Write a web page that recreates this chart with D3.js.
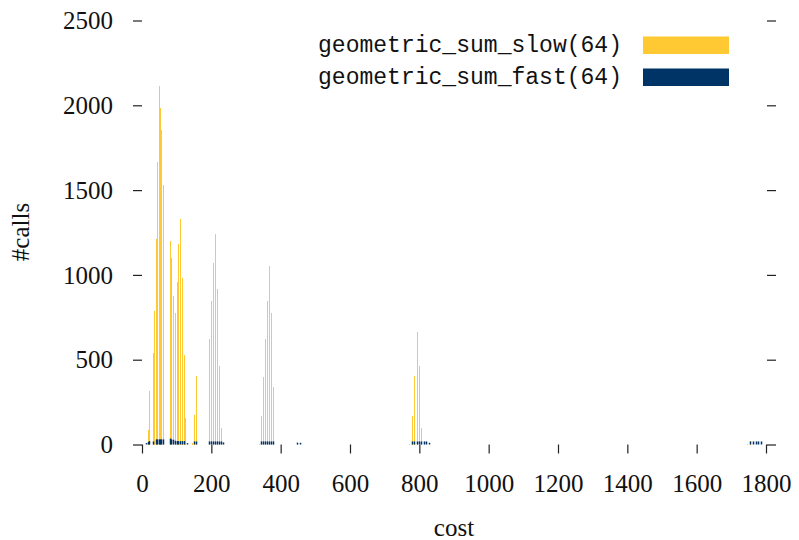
<!DOCTYPE html>
<html>
<head>
<meta charset="utf-8">
<script src="https://cdn.jsdelivr.net/npm/d3@7"></script>
<style>
  html, body { margin: 0; padding: 0; background: #fff; }
  svg { display: block; }
</style>
</head>
<body>
<svg id="chart" width="799" height="540"></svg>
<script>
// ---- data ----
const seriesNames = ["geometric_sum_slow(64)", "geometric_sum_fast(64)"];
const costs = [12.5, 17.3, 20.2, 32.7, 35.6, 41.4, 44.2, 49, 52, 54.8, 61.5,
  81.7, 84.6, 89.4, 95.2, 101.9, 104.8, 110.6, 116.4, 122.2, 125, 130.8,
  145, 150.9, 156.7,
  193, 199, 204.8, 210.6, 216.3, 222.1, 227.9, 233.6,
  338.4, 344.2, 350, 355.7, 361.5, 367.3, 373, 378.8,
  448, 456.6,
  771, 779.7, 785.5, 794, 799.8, 805.6, 814.2, 820, 828.7,
  1746, 1755, 1763, 1771, 1778, 1786];
const slowCalls = [0, 88, 314, 539, 790, 1214, 1667, 2114, 1982, 1853, 1529,
  1200, 1102, 878, 778, 961, 1184, 1331, 982, 525, 155, 0,
  6, 173, 402,
  625, 849, 1072, 1243, 914, 461, 100, 0,
  5, 170, 400, 624, 847, 1053, 776, 341,
  14, 0,
  5, 170, 402, 665, 465, 100, 0, 0, 0,
  5, 22, 0, 0, 0, 0];
const fastCalls = [8, 15, 20, 18, 0, 30, 30, 30, 30, 30, 30,
  35, 30, 28, 22, 20, 20, 20, 20, 20, 0, 8,
  0, 18, 18,
  18, 18, 18, 18, 18, 18, 18, 12,
  0, 18, 18, 18, 18, 18, 18, 18,
  10, 10,
  0, 18, 18, 18, 18, 18, 18, 18, 10,
  0, 18, 18, 18, 18, 18];
const xTicks = [0, 200, 400, 600, 800, 1000, 1200, 1400, 1600, 1800];
const yTicks = [0, 500, 1000, 1500, 2000, 2500];
const colors = ["#ffc933", "#003366"];

// ---- layout ----
const svg = d3.select("#chart");
const x = d3.scaleLinear().domain([0, 1800]).range([142, 766]);
const y = d3.scaleLinear().domain([0, 2500]).range([444.5, 20.5]);
const serif = "'Liberation Serif', 'Times New Roman', serif";
const mono = "'Liberation Mono', 'DejaVu Sans Mono', monospace";

// axes
const left = svg.append("g").attr("transform", "translate(142,0)")
  .call(d3.axisLeft(y).tickValues(yTicks).tickSizeInner(9).tickSizeOuter(0).tickPadding(20).tickFormat(d3.format("d")));
const right = svg.append("g").attr("transform", "translate(767,0)")
  .call(d3.axisRight(y).tickValues(yTicks).tickSizeInner(9).tickSizeOuter(0).tickFormat(""));
const bottom = svg.append("g").attr("transform", "translate(0,444.5)")
  .call(d3.axisBottom(x).tickValues(xTicks).tickSizeInner(9).tickSizeOuter(0).tickFormat(d3.format("d")));

[left, right, bottom].forEach(g => {
  g.select(".domain").remove();
  g.selectAll(".tick line").attr("stroke", "#222").attr("stroke-width", 1.2);
  g.selectAll(".tick text").attr("font-family", serif).attr("font-size", 25).attr("fill", "#111");
});
left.selectAll(".tick text").attr("dy", "0.33em");
bottom.selectAll(".tick text").attr("y", 47.5).attr("dy", 0);

// bars
const rows = costs.map((c, i) => ({ c, s: slowCalls[i], f: fastCalls[i] }));
svg.append("g").attr("shape-rendering", "crispEdges")
  .selectAll("rect").data(rows.filter(d => d.s > 0)).join("rect")
  .attr("x", d => Math.round(x(d.c)))
  .attr("width", 1)
  .attr("y", d => y(d.s))
  .attr("height", d => y(0) - y(d.s))
  .attr("fill", colors[0]);
svg.append("g")
  .selectAll("rect").data(rows.filter(d => d.f > 0)).join("rect")
  .attr("x", d => Math.round(x(d.c)) - 0.25)
  .attr("width", 1.5)
  .attr("y", d => y(d.f))
  .attr("height", d => y(0) - y(d.f))
  .attr("fill", colors[1]);

// legend
const legend = svg.append("g");
seriesNames.forEach((name, i) => {
  legend.append("text")
    .attr("x", 318).attr("y", 52 + i * 32)
    .attr("font-family", mono).attr("font-size", 23)
    .attr("textLength", 304).attr("lengthAdjust", "spacingAndGlyphs")
    .attr("fill", "#111")
    .text(name);
  legend.append("rect")
    .attr("x", 643).attr("y", 36.5 + i * 32)
    .attr("width", 86).attr("height", 17.5)
    .attr("fill", colors[i]);
});

// axis titles
svg.append("text").attr("x", 454).attr("y", 536)
  .attr("text-anchor", "middle").attr("font-family", serif).attr("font-size", 25)
  .attr("fill", "#111").text("cost");
svg.append("text").attr("transform", "translate(29,232) rotate(-90)")
  .attr("text-anchor", "middle").attr("font-family", serif).attr("font-size", 25)
  .attr("fill", "#111").text("#calls");
</script>
</body>
</html>
